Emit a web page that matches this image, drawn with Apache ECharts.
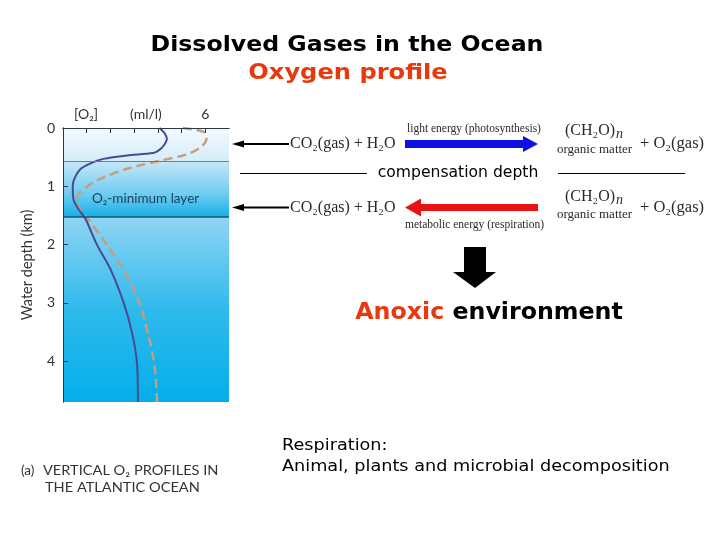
<!DOCTYPE html>
<html>
<head>
<meta charset="utf-8">
<script src="https://cdn.jsdelivr.net/npm/echarts@6/dist/echarts.min.js"></script>
<style>html,body{margin:0;padding:0;background:#fff}#c{width:720px;height:540px}</style>
</head>
<body>
<div id="c"></div>
<script>
// ---- data (O2 concentration in ml/l, water depth in km) ----
const solidProfile = [
  [4.07,0],[4.3,0.1],[4.38,0.19],[4.25,0.3],[4.05,0.38],[3.8,0.43],[2.7,0.47],[1.7,0.53],
  [1.14,0.61],[0.72,0.71],[0.5,0.85],[0.41,0.99],[0.44,1.22],[0.65,1.39],[0.95,1.56],
  [1.43,2.0],[2.0,2.42],[2.56,3.0],[2.91,3.51],[3.12,4.03],[3.16,4.7]
];
const dashedProfile = [
  [5.05,0],[5.95,0.07],[6.05,0.19],[5.8,0.33],[5.24,0.45],[4.1,0.56],[2.7,0.70],
  [1.43,0.9],[0.72,1.1],[0.55,1.25],[0.72,1.39],[1.05,1.56],[1.85,2.0],[2.7,2.54],
  [3.26,3.05],[3.61,3.57],[3.86,4.08],[3.97,4.7]
];
const layerEdges = [0, 0.57, 1.53, 4.7];   // surface layer, O2-minimum layer, deep water
const xTickValues = [1, 2, 3, 4, 5, 6];
const xTickLabels = {6: '6'};
const yTickValues = [0, 1, 2, 3, 4];
const yTickLabels = ['0', '1', '2', '3', '4'];

const chart = echarts.init(document.getElementById('c'));
const G = echarts.graphic.LinearGradient;
const axisCol = '#2b3a44';
const serif = '"Liberation Serif", "DejaVu Serif", serif';
const sans = '"DejaVu Sans", sans-serif';
const gill = 'Lato, "Open Sans", sans-serif';

const bandColors = [
  new G(0,0,0,1,[{offset:0,color:'#f3fafe'},{offset:1,color:'#d4edf9'}]),
  new G(0,0,0,1,[{offset:0,color:'#c6e7f7'},{offset:0.6,color:'#6ccbf0'},{offset:1,color:'#12b0e7'}]),
  new G(0,0,0,1,[{offset:0,color:'#8fd4f3'},{offset:0.5,color:'#2fbaec'},{offset:1,color:'#05aeea'}])
];

function txt(text, x, y, font, fill, align, sx) {
  return {type:'text', x:x, y:y, z:100, scaleX: sx||1,
    style:{text:text, font:font, fill:fill, align:align||'left', verticalAlign:'middle'}};
}
function arrowLeftThin(y){
  return [
    {type:'line', z:100, shape:{x1:242,y1:y,x2:289,y2:y}, style:{stroke:'#000',lineWidth:2}},
    {type:'polygon', z:100, shape:{points:[[232,y],[244,y-3.5],[244,y+3.5]]}, style:{fill:'#000'}}
  ];
}

const option = {
  animation:false,
  grid:{left:63, right:491, top:128, bottom:138},
  xAxis:[
    {type:'value', position:'top', min:0, max:7, interval:1, z:10,
     axisLine:{show:true, lineStyle:{color:axisCol, width:1}},
     axisTick:{show:true, inside:true, length:5, customValues:xTickValues, lineStyle:{color:axisCol}},
     axisLabel:{customValues:xTickValues, formatter:v=>xTickLabels[v]||'', fontFamily:gill, fontSize:14, color:'#333', margin:7},
     splitLine:{show:false}},
    {type:'value', position:'bottom', min:0, max:7, z:10,
     axisLine:{show:true, lineStyle:{color:axisCol, width:1}},
     axisTick:{show:false}, axisLabel:{show:false}, splitLine:{show:false}}
  ],
  yAxis:[
    {type:'value', inverse:true, min:0, max:4.7, interval:1, z:10,
     name:'Water depth (km)', nameLocation:'middle', nameGap:28, nameRotate:90,
     nameTextStyle:{fontFamily:gill, fontSize:14.5, color:'#333'},
     axisLine:{show:true, lineStyle:{color:axisCol, width:1}},
     axisTick:{show:true, inside:true, length:5, customValues:yTickValues, lineStyle:{color:axisCol}},
     axisLabel:{customValues:yTickValues, formatter:v=>yTickLabels[yTickValues.indexOf(v)]||'', fontFamily:gill, fontSize:14, color:'#333', margin:8},
     splitLine:{show:false}},
    {type:'value', inverse:true, min:0, max:4.7, position:'right', z:10,
     axisLine:{show:true, lineStyle:{color:axisCol, width:1}},
     axisTick:{show:false}, axisLabel:{show:false}, splitLine:{show:false}}
  ],
  series:[
    {type:'line', z:1, data:[[0,0]], showSymbol:false, symbol:'none', lineStyle:{width:0}, silent:true,
     markArea:{silent:true, data:[0,1,2].map(i=>[
       {yAxis:layerEdges[i], itemStyle:{color:bandColors[i]}},{yAxis:layerEdges[i+1]}])},
     markLine:{silent:true, symbol:'none', label:{show:false},
       data:[{yAxis:layerEdges[1], lineStyle:{color:'#6f7f87', width:1, type:'solid'}},
             {yAxis:layerEdges[2], lineStyle:{color:'#22506a', width:1.5, type:'solid'}}]}},
    {type:'line', z:3, data:dashedProfile, smooth:0.3, symbol:'none',
     lineStyle:{color:'#c99c7e', width:2.5, type:[9,5]}},
    {type:'line', z:4, data:solidProfile, smooth:0.3, symbol:'none',
     lineStyle:{color:'#4a4a90', width:2}}
  ],
  graphic:[
    txt('Dissolved Gases in the Ocean', 347, 45.5, 'bold 21px '+sans, '#000', 'center', 1.125),
    txt('Oxygen profile', 348, 74, 'bold 21px '+sans, '#e8380c', 'center', 1.15),
    txt('[O₂]', 74, 114, '14px '+gill, '#333'),
    txt('(ml/l)', 130, 114, '14px '+gill, '#333'),
    txt('O₂-minimum layer', 92, 199, '13.5px '+gill, '#1d3c58'),
    txt('(a)', 21, 471, '13.5px '+gill, '#333'),
    txt('VERTICAL O₂ PROFILES IN', 43, 471, '13.5px '+gill, '#333', 'left', 1.08),
    txt('THE ATLANTIC OCEAN', 45, 488, '13.5px '+gill, '#333', 'left', 1.08),
    ...arrowLeftThin(144),
    ...arrowLeftThin(207.5),
    txt('CO₂(gas) + H₂O', 290, 144, '16px '+serif, '#2a2a2a'),
    txt('CO₂(gas) + H₂O', 290, 207.5, '16px '+serif, '#2a2a2a'),
    txt('light energy (photosynthesis)', 407, 129, '11.5px '+serif, '#2a2a2a'),
    txt('metabolic energy (respiration)', 405, 225, '11.5px '+serif, '#2a2a2a'),
    {type:'polygon', z:100, shape:{points:[[405,140],[523,140],[523,136],[538,144],[523,152],[523,148],[405,148]]}, style:{fill:'#1010e6'}},
    {type:'polygon', z:100, shape:{points:[[538,204],[421,204],[421,198.5],[405,207.5],[421,216.5],[421,211],[538,211]]}, style:{fill:'#e81414'}},
    txt('(CH₂O)', 565, 131, '16px '+serif, '#2a2a2a'),
    txt('n', 616, 134, 'italic 14px '+serif, '#2a2a2a'),
    txt('organic matter', 557, 150, '13px '+serif, '#2a2a2a'),
    txt('+ O₂(gas)', 640, 144, '16.5px '+serif, '#2a2a2a'),
    txt('(CH₂O)', 565, 197, '16px '+serif, '#2a2a2a'),
    txt('n', 616, 200, 'italic 14px '+serif, '#2a2a2a'),
    txt('organic matter', 557, 215, '13px '+serif, '#2a2a2a'),
    txt('+ O₂(gas)', 640, 207.5, '16.5px '+serif, '#2a2a2a'),
    {type:'line', z:100, shape:{x1:240,y1:173.5,x2:367,y2:173.5}, style:{stroke:'#000',lineWidth:1}},
    {type:'line', z:100, shape:{x1:558,y1:173.5,x2:685,y2:173.5}, style:{stroke:'#000',lineWidth:1}},
    txt('compensation depth', 458, 173.5, '15px '+sans, '#000', 'center', 1.04),
    {type:'polygon', z:100, shape:{points:[[464,247],[486,247],[486,272],[496,272],[475,288],[453,272],[464,272]]}, style:{fill:'#000'}},
    {type:'text', x:489, y:313.5, z:100, scaleX:1.03, style:{
      text:'{r|Anoxic} {b|environment}', align:'center', verticalAlign:'middle',
      font:'bold 23px '+sans, fill:'#000',
      rich:{r:{fill:'#e8380c', fontSize:23, fontWeight:'bold', fontFamily:'DejaVu Sans'},
            b:{fill:'#000', fontSize:23, fontWeight:'bold', fontFamily:'DejaVu Sans'}}}},
    txt('Respiration:', 282, 446, '16.5px '+sans, '#000', 'left', 1.07),
    txt('Animal, plants and microbial decomposition', 282, 466.5, '16.5px '+sans, '#000', 'left', 1.07)
  ]
};
chart.setOption(option);
</script>
</body>
</html>
